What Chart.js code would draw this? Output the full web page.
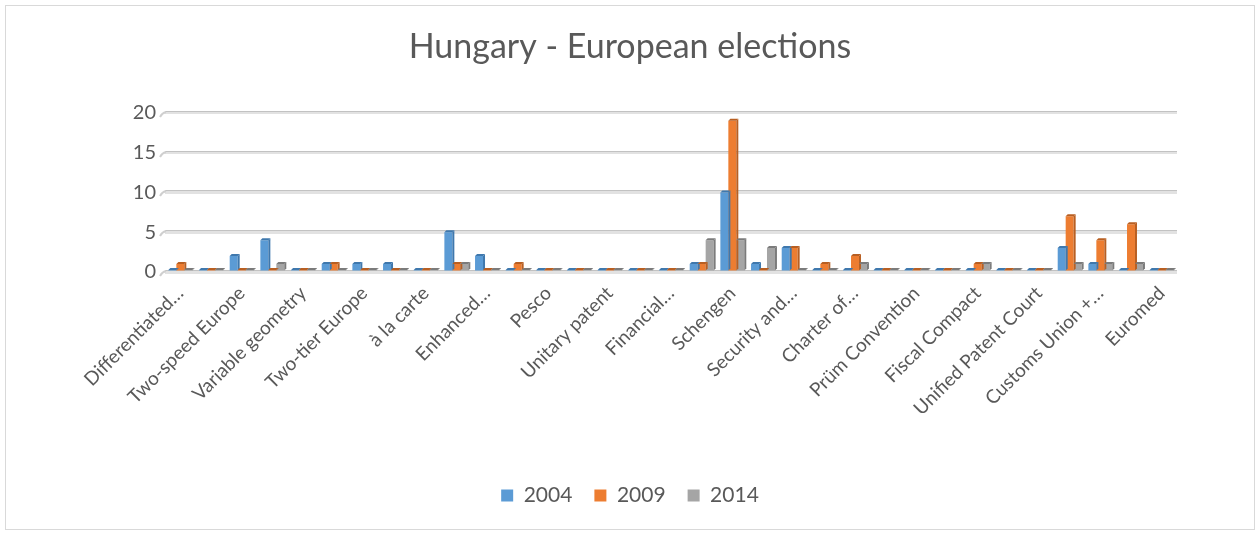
<!DOCTYPE html>
<html>
<head>
<meta charset="utf-8">
<script src="https://cdn.jsdelivr.net/npm/chart.js@4.4.1/dist/chart.umd.min.js"></script>
<style>
  html, body { margin: 0; padding: 0; background: #ffffff; }
  #wrap { width: 1260px; height: 534px; position: relative; }
</style>
</head>
<body>
<div id="wrap"><canvas id="chart" width="1260" height="534"></canvas></div>
<script>
// Categories (only every other name is printed on the axis)
const categories = [
  'Differentiated…', '', 'Two-speed Europe', '', 'Variable geometry', '',
  'Two-tier Europe', '', 'à la carte', '', 'Enhanced…', '', 'Pesco', '',
  'Unitary patent', '', 'Financial…', '', 'Schengen', '', 'Security and…', '',
  'Charter of…', '', 'Prüm Convention', '', 'Fiscal Compact', '',
  'Unified Patent Court', '', 'Customs Union +…', '', 'Euromed'
];
const seriesNames = ['2004', '2009', '2014'];
const values2004 = [0,0,2,4,0,1,1,1,0,5,2,0,0,0,0,0,0,1,10,1,3,0,0,0,0,0,0,0,0,3,1,0,0];
const values2009 = [1,0,0,0,0,1,0,0,0,1,0,1,0,0,0,0,0,1,19,0,3,1,2,0,0,0,1,0,0,7,4,6,0];
const values2014 = [0,0,0,1,0,0,0,0,0,1,0,0,0,0,0,0,0,4,4,3,0,0,1,0,0,0,1,0,0,1,1,1,0];
const yTicks = [0, 5, 10, 15, 20];

const faceColors = ['#5B9BD5', '#ED7D31', '#A5A5A5'];
const sideColors = ['#3F78AD', '#B85F22', '#7B7B7B'];
const textColor = '#595959';

// Gives bars a slight depth: a darker right face and top
const depthPlugin = {
  id: 'depth',
  afterDatasetsDraw(chart) {
    const ctx = chart.ctx;
    const d = 2;
    chart.data.datasets.forEach((ds, i) => {
      const meta = chart.getDatasetMeta(i);
      meta.data.forEach(bar => {
        const p = bar.getProps(['x', 'y', 'base', 'width'], true);
        const l = p.x - p.width / 2, r = p.x + p.width / 2;
        ctx.save();
        ctx.fillStyle = sideColors[i];
        ctx.beginPath();
        ctx.moveTo(r, p.y);
        ctx.lineTo(r + d, p.y - d);
        ctx.lineTo(r + d, p.base - d);
        ctx.lineTo(r, p.base);
        ctx.closePath();
        ctx.fill();
        ctx.beginPath();
        ctx.moveTo(l, p.y);
        ctx.lineTo(l + d, p.y - d);
        ctx.lineTo(r + d, p.y - d);
        ctx.lineTo(r, p.y);
        ctx.closePath();
        ctx.fill();
        ctx.restore();
      });
    });
  }
};

// Gridline edges with slanted left stubs, and the outer frame
const framePlugin = {
  id: 'frame',
  beforeDraw(chart) {
    const ctx = chart.ctx;
    ctx.save();
    ctx.strokeStyle = '#d9d9d9';
    ctx.lineWidth = 1;
    ctx.strokeRect(5.5, 5.5, 1249, 524);
    ctx.restore();
  },
  beforeDatasetsDraw(chart) {
    const ctx = chart.ctx;
    const ys = chart.scales.y;
    const { left, right } = chart.chartArea;
    ctx.save();
    yTicks.forEach(v => {
      const py = Math.round(ys.getPixelForValue(v));
      ctx.strokeStyle = '#c2c2c2';
      ctx.lineWidth = 1;
      ctx.beginPath();
      ctx.moveTo(left, py - 1.5);
      ctx.lineTo(right, py - 1.5);
      ctx.stroke();
      ctx.lineWidth = 2;
      ctx.strokeStyle = '#cfcfcf';
      ctx.beginPath();
      ctx.moveTo(left + 1, py - 1);
      ctx.quadraticCurveTo(left - 3, py, left - 5, py + 4);
      ctx.stroke();
    });
    ctx.restore();
  }
};

const ctx = document.getElementById('chart').getContext('2d');
new Chart(ctx, {
  type: 'bar',
  data: {
    labels: categories,
    datasets: [values2004, values2009, values2014].map((vals, i) => ({
      label: seriesNames[i],
      data: vals,
      backgroundColor: faceColors[i],
      borderWidth: 0,
      minBarLength: 2,
      categoryPercentage: 0.78,
      barPercentage: 1.0
    }))
  },
  options: {
    responsive: false,
    animation: false,
    devicePixelRatio: 1,
    layout: { padding: { left: 0, right: 0, top: 0, bottom: 18 } },
    plugins: {
      title: {
        display: true,
        text: 'Hungary - European elections',
        color: textColor,
        font: { family: 'Lato', size: 34, weight: 'normal' },
        padding: { top: 27, bottom: 45 }
      },
      legend: {
        position: 'bottom',
        labels: {
          color: textColor,
          font: { family: 'Lato', size: 21 },
          boxWidth: 12,
          boxHeight: 12,
          padding: 22
        }
      },
      tooltip: { enabled: false }
    },
    scales: {
      x: {
        grid: { display: false, drawTicks: false },
        border: { display: false },
        ticks: {
          color: textColor,
          font: { family: 'Lato', size: 19 },
          autoSkip: false,
          maxRotation: 45,
          minRotation: 45,
          padding: 10
        },
        afterFit(scale) { scale.height = 191; }
      },
      y: {
        min: 0,
        max: 20,
        grid: { color: '#e2e2e2', lineWidth: 3, drawTicks: false },
        border: { display: false },
        ticks: {
          stepSize: 5,
          color: textColor,
          font: { family: 'Lato', size: 20 },
          padding: 9
        },
        afterFit(scale) { scale.width = 165; }
      },
      // empty margin on the right of the plot
      yRight: {
        position: 'right',
        display: true,
        grid: { display: false, drawTicks: false },
        border: { display: false },
        ticks: { display: false },
        afterFit(scale) { scale.width = 83; }
      }
    }
  },
  plugins: [depthPlugin, framePlugin]
});
</script>
</body>
</html>
